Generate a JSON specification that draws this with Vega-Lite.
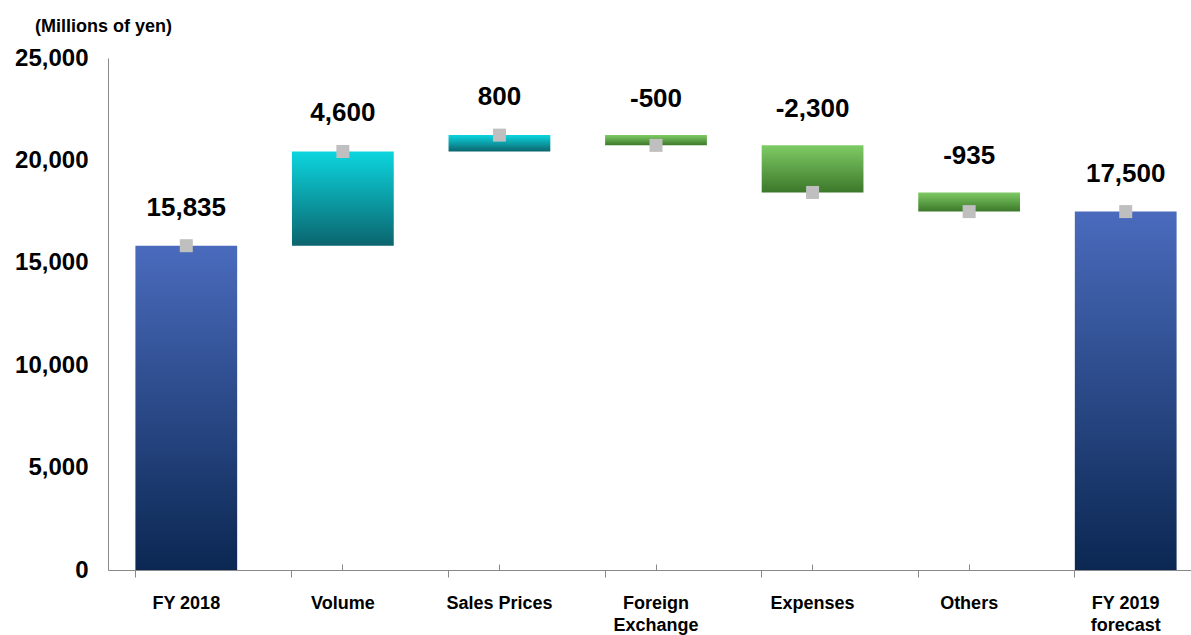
{
  "$schema": "https://vega.github.io/schema/vega-lite/v6.json",
  "autosize": {"type": "none"},
  "width": 1083,
  "height": 512,
  "padding": {"left": 108, "top": 58, "right": 0, "bottom": 65},
  "background": "white",
  "config": {
    "view": {"stroke": null},
    "font": "Liberation Sans"
  },
  "data": {
    "values": [
      {"category": "FY 2018", "start": 0, "end": 15835, "label": "15,835", "type": "total"},
      {"category": "Volume", "start": 15835, "end": 20435, "label": "4,600", "type": "up"},
      {"category": "Sales Prices", "start": 20435, "end": 21235, "label": "800", "type": "up"},
      {"category": "Foreign Exchange", "start": 21235, "end": 20735, "label": "-500", "type": "down"},
      {"category": "Expenses", "start": 20735, "end": 18435, "label": "-2,300", "type": "down"},
      {"category": "Others", "start": 18435, "end": 17500, "label": "-935", "type": "down"},
      {"category": "FY 2019 forecast", "start": 0, "end": 17500, "label": "17,500", "type": "total"}
    ]
  },
  "resolve": {"axis": {"x": "independent"}},
  "layer": [
    {
      "transform": [{"filter": "datum.type == 'total'"}],
      "mark": {
        "type": "bar",
        "fill": {"gradient": "linear", "x1": 0, "y1": 0, "x2": 0, "y2": 1,
          "stops": [{"offset": 0, "color": "#4a6bbd"}, {"offset": 1, "color": "#0b2752"}]}
      },
      "encoding": {
        "x": {
          "field": "category",
          "type": "nominal",
          "sort": ["FY 2018", "Volume", "Sales Prices", "Foreign Exchange", "Expenses", "Others", "FY 2019 forecast"],
          "scale": {"range": [0, 1096], "paddingInner": 0.35, "paddingOuter": 0.175},
          "axis": {
            "orient": "bottom",
            "title": null,
            "bandPosition": 0,
            "labelAngle": 0,
            "labelFont": "Liberation Sans",
            "labelFontSize": 18,
            "labelFontWeight": "bold",
            "labelColor": "black",
            "labelBaseline": "top",
            "labelPadding": 17,
            "labelLineHeight": 22,
            "labelExpr": "datum.label == 'Foreign Exchange' ? ['Foreign', 'Exchange'] : datum.label == 'FY 2019 forecast' ? ['FY 2019', 'forecast'] : datum.label",
            "domainColor": "#898989",
            "tickColor": "#898989",
            "tickSize": 7,
            "grid": false
          }
        },
        "y": {
          "field": "start",
          "type": "quantitative",
          "scale": {"domain": [0, 25000], "nice": false},
          "axis": {
            "values": [0, 5000, 10000, 15000, 20000, 25000],
            "format": ",.0f",
            "grid": false,
            "ticks": false,
            "tickSize": 0,
            "labelPadding": 20,
            "labelFont": "Liberation Sans",
            "labelFontSize": 24,
            "labelFontWeight": "bold",
            "labelColor": "black",
            "domainColor": "#898989",
            "title": "(Millions of yen)",
            "titleAngle": 0,
            "titleFont": "Liberation Sans",
            "titleFontSize": 18,
            "titleFontWeight": "bold",
            "titleColor": "black",
            "titleAlign": "center",
            "titleBaseline": "middle",
            "titleX": -5,
            "titleY": -32
          }
        },
        "y2": {"field": "end"}
      }
    },
    {
      "transform": [{"filter": "datum.type == 'up'"}],
      "mark": {
        "type": "bar",
        "fill": {"gradient": "linear", "x1": 0, "y1": 0, "x2": 0, "y2": 1,
          "stops": [{"offset": 0, "color": "#0cd5de"}, {"offset": 1, "color": "#0b656e"}]}
      },
      "encoding": {
        "x": {"field": "category", "type": "nominal", "sort": ["FY 2018", "Volume", "Sales Prices", "Foreign Exchange", "Expenses", "Others", "FY 2019 forecast"], "axis": null},
        "y": {"field": "start", "type": "quantitative"},
        "y2": {"field": "end"}
      }
    },
    {
      "transform": [{"filter": "datum.type == 'down'"}],
      "mark": {
        "type": "bar",
        "fill": {"gradient": "linear", "x1": 0, "y1": 0, "x2": 0, "y2": 1,
          "stops": [{"offset": 0, "color": "#7ecb65"}, {"offset": 1, "color": "#3c782a"}]}
      },
      "encoding": {
        "x": {"field": "category", "type": "nominal", "sort": ["FY 2018", "Volume", "Sales Prices", "Foreign Exchange", "Expenses", "Others", "FY 2019 forecast"], "axis": null},
        "y": {"field": "start", "type": "quantitative"},
        "y2": {"field": "end"}
      }
    },
    {
      "mark": {"type": "point", "shape": "square", "filled": true, "size": 169, "color": "#bfbfbf", "opacity": 1},
      "encoding": {
        "x": {
          "field": "category", "type": "nominal",
          "sort": ["FY 2018", "Volume", "Sales Prices", "Foreign Exchange", "Expenses", "Others", "FY 2019 forecast"],
          "axis": {"orient": "bottom", "title": null, "labels": false, "domain": false, "bandPosition": 0.5, "tickSize": -6, "tickColor": "#898989", "grid": false}
        },
        "y": {"field": "end", "type": "quantitative"}
      }
    },
    {
      "transform": [{"filter": "datum.type != 'down'"}],
      "mark": {"type": "text", "font": "Liberation Sans", "fontSize": 26, "fontWeight": "bold", "color": "black", "baseline": "middle", "dy": -38},
      "encoding": {
        "x": {"field": "category", "type": "nominal", "sort": ["FY 2018", "Volume", "Sales Prices", "Foreign Exchange", "Expenses", "Others", "FY 2019 forecast"], "axis": null},
        "y": {"field": "end", "type": "quantitative"},
        "text": {"field": "label"}
      }
    },
    {
      "transform": [{"filter": "datum.type == 'down'"}],
      "mark": {"type": "text", "font": "Liberation Sans", "fontSize": 26, "fontWeight": "bold", "color": "black", "baseline": "middle", "dy": -36},
      "encoding": {
        "x": {"field": "category", "type": "nominal", "sort": ["FY 2018", "Volume", "Sales Prices", "Foreign Exchange", "Expenses", "Others", "FY 2019 forecast"], "axis": null},
        "y": {"field": "start", "type": "quantitative"},
        "text": {"field": "label"}
      }
    }
  ]
}
